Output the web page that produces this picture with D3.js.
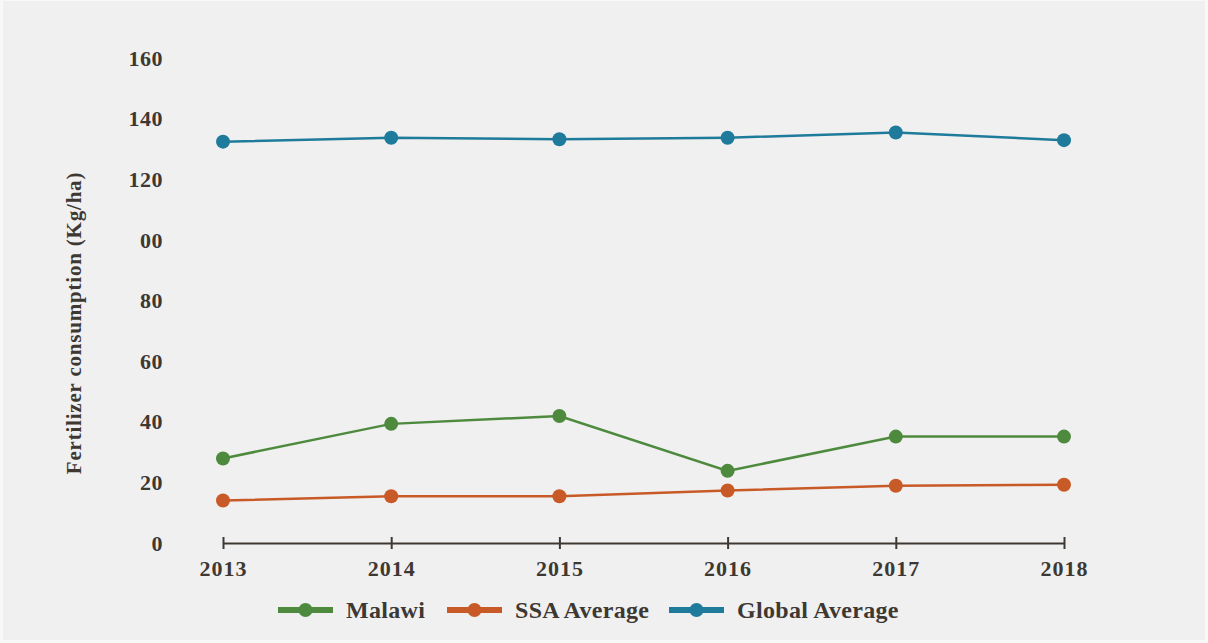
<!DOCTYPE html>
<meta charset="utf-8">
<style>
body { margin: 0; background: #f8f8f8; }
svg { display: block; font-family: "Liberation Serif", "DejaVu Serif", serif; font-weight: bold; }
</style>
<body>
<svg width="1208" height="643"></svg>
<script src="https://d3js.org/d3.v7.min.js"></script>
<script>

// data
var years = [2013, 2014, 2015, 2016, 2017, 2018];
var malawi = [27.9, 39.3, 41.9, 23.8, 35.1, 35.1];
var ssa    = [14.0, 15.4, 15.4, 17.3, 18.9, 19.2];
var global = [132.4, 133.7, 133.2, 133.7, 135.4, 132.9];
var yTicks = [0, 20, 40, 60, 80, 100, 120, 140, 160];
var yTickLabels = ["0", "20", "40", "60", "80", "00", "120", "140", "160"]; // "00" as printed
var seriesNames = ["Malawi", "SSA Average", "Global Average"];
var seriesColors = ["#4e8a3e", "#c85a28", "#1f7b9b"];

var series = [malawi, ssa, global];
var ink = "#3e3833";

var svg = d3.select("svg");

svg.append("rect")
    .attr("x", 3).attr("y", 1)
    .attr("width", 1202).attr("height", 639)
    .attr("fill", "#f0f0f0");

var x = d3.scalePoint().domain(years).range([223, 1064]);
var y = d3.scaleLinear().domain([0, 160]).range([543, 58]);

// y tick labels (no axis line)
svg.append("g").selectAll("text")
    .data(yTicks)
  .enter().append("text")
    .attr("x", 163)
    .attr("y", function(d) { return y(d); })
    .attr("dy", "0.35em")
    .attr("text-anchor", "end")
    .attr("font-size", 22)
    .attr("letter-spacing", 0.5)
    .attr("fill", ink)
    .text(function(d, i) { return yTickLabels[i]; });

// x axis
var xAxis = svg.append("g")
    .attr("transform", "translate(0," + y(0) + ")")
    .call(d3.axisBottom(x).tickSize(6).tickSizeOuter(0).tickPadding(11));
xAxis.select(".domain").attr("stroke", ink).attr("stroke-width", 2);
xAxis.selectAll(".tick line").attr("stroke", ink).attr("stroke-width", 2).attr("y1", -6);
xAxis.selectAll(".tick text")
    .attr("font-size", 22)
    .attr("letter-spacing", 1)
    .attr("font-family", "Liberation Serif, serif")
    .attr("font-weight", "bold")
    .attr("fill", ink);

// y title
svg.append("text")
    .attr("transform", "translate(81,323) rotate(-90)")
    .attr("text-anchor", "middle")
    .attr("font-size", 21)
    .attr("letter-spacing", 0.8)
    .attr("fill", ink)
    .text("Fertilizer consumption (Kg/ha)");

var line = d3.line()
    .x(function(d, i) { return x(years[i]); })
    .y(function(d) { return y(d); });

series.forEach(function(s, k) {
  var g = svg.append("g");
  g.append("path")
      .datum(s)
      .attr("d", line)
      .attr("fill", "none")
      .attr("stroke", seriesColors[k])
      .attr("stroke-width", 2.5);
  g.selectAll("circle")
      .data(s)
    .enter().append("circle")
      .attr("cx", function(d, i) { return x(years[i]); })
      .attr("cy", function(d) { return y(d); })
      .attr("r", 7)
      .attr("fill", seriesColors[k]);
});

// legend
var legendX = [278, 447, 669];
var legend = svg.append("g").selectAll("g")
    .data(seriesNames)
  .enter().append("g")
    .attr("transform", function(d, i) { return "translate(" + legendX[i] + ",610)"; });
legend.append("line")
    .attr("x1", 0).attr("x2", 55)
    .attr("stroke", function(d, i) { return seriesColors[i]; })
    .attr("stroke-width", 6);
legend.append("circle")
    .attr("cx", 27.5).attr("r", 7)
    .attr("fill", function(d, i) { return seriesColors[i]; });
legend.append("text")
    .attr("x", 68)
    .attr("dy", "0.35em")
    .attr("font-size", 24)
    .attr("letter-spacing", 0.3)
    .attr("fill", ink)
    .text(function(d) { return d; });

</script>
</body>
